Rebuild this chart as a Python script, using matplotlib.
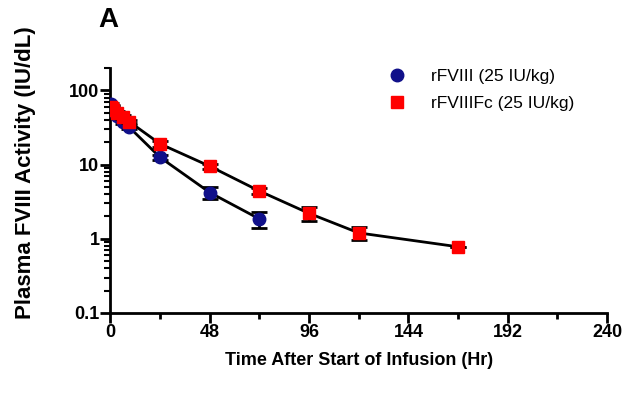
import numpy as np
import matplotlib.pyplot as plt
from matplotlib.ticker import FixedLocator, NullFormatter

plt.rcParams['font.family'] = ['Liberation Sans', 'DejaVu Sans']

# rFVIII (25 IU/kg)
t_fviii = [0.17, 0.5, 1, 3, 6, 9, 24, 48, 72]
y_fviii = [65, 60, 55, 45, 38, 32, 12.5, 4.2, 1.85]
e_fviii = [3, 3, 3, 3, 2.5, 2, 1.0, 0.8, 0.45]

# rFVIIIFc (25 IU/kg)
t_fc = [0.17, 0.5, 1, 3, 6, 9, 24, 48, 72, 96, 120, 168]
y_fc = [60, 58, 55, 50, 44, 38, 19, 9.5, 4.4, 2.2, 1.2, 0.78]
e_fc = [3, 3, 3, 3, 2.5, 2, 1.5, 0.7, 0.4, 0.45, 0.25, 0.0]

x_ticks = [0, 48, 96, 144, 192, 240]
y_ticks = [0.1, 1, 10, 100]
y_ticklabels = ['0.1', '1', '10', '100']

fig = plt.figure(figsize=(6.35, 3.98), dpi=100)
ax = fig.add_axes([0.174, 0.2136, 0.782, 0.6154])

ax.errorbar(t_fviii, y_fviii, yerr=e_fviii, color='black', lw=2,
            marker='o', ms=9, mfc='#10108a', mec='#10108a',
            capsize=6, capthick=2, elinewidth=2, zorder=3)
ax.errorbar(t_fc, y_fc, yerr=e_fc, color='black', lw=2,
            marker='s', ms=9, mfc='#ff0000', mec='#ff0000',
            capsize=6, capthick=2, elinewidth=2, zorder=4)

ax.set_yscale('log')
ax.set_ylim(0.1, 200)
ax.set_xlim(0, 240)
ax.set_xticks(x_ticks)
ax.set_xticks(np.arange(24, 240, 48), minor=True)
ax.set_yticks(y_ticks)
ax.set_yticklabels(y_ticklabels)
minor_y = [k * 10.0 ** d for d in range(-1, 3) for k in range(2, 10)]
minor_y = [v for v in minor_y if v <= 200]
ax.yaxis.set_minor_locator(FixedLocator(minor_y))
ax.yaxis.set_minor_formatter(NullFormatter())

for s in ['top', 'right']:
    ax.spines[s].set_visible(False)
for s in ['left', 'bottom']:
    ax.spines[s].set_linewidth(2)
ax.tick_params(which='major', length=7, width=2, direction='out', pad=1,
               labelsize=13)
ax.tick_params(axis='x', which='minor', length=4, width=2, direction='out')
ax.tick_params(axis='y', which='minor', length=4, width=1.5, direction='out')
for lab in ax.get_xticklabels() + ax.get_yticklabels():
    lab.set_fontweight('bold')

ax.set_xlabel('Time After Start of Infusion (Hr)', fontsize=13,
              fontweight='bold', labelpad=8)
ax.set_ylabel('Plasma FVIII Activity (IU/dL)', fontsize=16,
              fontweight='bold')
ax.yaxis.set_label_coords(-0.15, 0.575)

handles = [plt.Line2D([], [], ls='none', marker='o', ms=9, color='#10108a'),
           plt.Line2D([], [], ls='none', marker='s', ms=9, color='#ff0000')]
ax.legend(handles, ['rFVIII (25 IU/kg)', 'rFVIIIFc (25 IU/kg)'],
          loc='upper left', bbox_to_anchor=(0.51, 1.06), frameon=False,
          fontsize=12.5, handletextpad=1.0, labelspacing=0.7)

fig.text(0.155, 0.95, 'A', fontsize=20, fontweight='bold', va='center')

fig.savefig('out.png', dpi=100)
